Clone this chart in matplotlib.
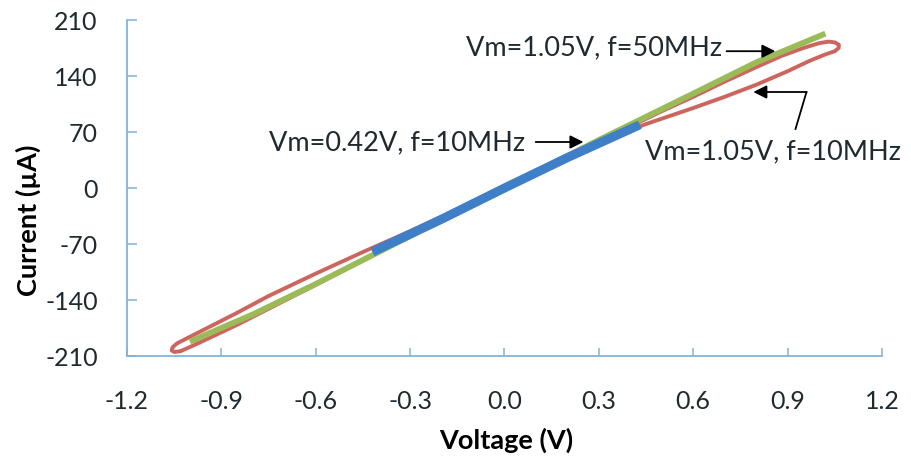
import matplotlib
matplotlib.use("Agg")
import matplotlib.pyplot as plt

plt.rcParams['font.family'] = ['Lato', 'DejaVu Sans']

# Vm=1.05V, f=10MHz (pinched hysteresis loop, traversal order)
red_v = [0.0, 0.1, 0.2, 0.3, 0.4, 0.5, 0.6, 0.7, 0.8, 0.88, 0.95, 1.0, 1.03, 1.05, 1.063, 1.062, 1.05, 1.02,
         0.97, 0.9, 0.8, 0.7, 0.6, 0.45, 0.3, 0.2, 0.1, 0.0,
         -0.1, -0.2, -0.3, -0.45, -0.6, -0.75, -0.85, -0.93, -0.99, -1.03, -1.05, -1.058, -1.055, -1.04,
         -1.0, -0.95, -0.85, -0.75, -0.6, -0.45, -0.3, -0.2, -0.1, 0.0]
red_i = [0, 20, 39, 58, 77, 96, 114, 133, 151, 165, 175, 181, 183, 182, 179, 175, 171, 167,
         159, 146, 129, 114, 100, 80, 57, 37, 18, 0,
         -20, -40, -60, -90, -121, -151, -171, -186, -197, -204, -205, -203, -199, -194,
         -186, -176, -156, -135, -107, -80, -54, -36, -18, 0]

# Vm=1.05V, f=50MHz
green_v = [-1.0, -0.8, -0.6, -0.3, 0.0, 0.3, 0.6, 0.8, 1.02]
green_i = [-192, -158, -120, -60, 0, 60, 118, 157, 193]

# Vm=0.42V, f=10MHz
blue_v = [-0.42, -0.2, 0.0, 0.2, 0.43]
blue_i = [-80, -39, 0, 38, 79]

xticks = [-1.2, -0.9, -0.6, -0.3, 0.0, 0.3, 0.6, 0.9, 1.2]
yticks = [-210, -140, -70, 0, 70, 140, 210]

txt_color = '#1f2a30'
spine_color = '#86b2d6'

fig = plt.figure(figsize=(9.12, 4.6), dpi=100)
ax = fig.add_axes([127/912, 103/460, 755/912, 336/460])

ax.plot(red_v, red_i, color='#cc655e', lw=2.8, solid_joinstyle='round', zorder=2)
ax.plot(green_v, green_i, color='#9bbb59', lw=4.2, solid_capstyle='butt', zorder=3)
ax.plot(blue_v, blue_i, color='#3f7fc8', lw=6.5, solid_capstyle='butt', zorder=4)

ax.set_xlim(-1.2, 1.2)
ax.set_ylim(-210, 210)
ax.set_xticks(xticks)
ax.set_xticklabels([f"{t:.1f}" for t in xticks])
ax.set_yticks(yticks)
ax.set_yticklabels([str(t) for t in yticks])

for s in ['top', 'right']:
    ax.spines[s].set_visible(False)
for s in ['left', 'bottom']:
    ax.spines[s].set_color(spine_color)
    ax.spines[s].set_linewidth(1.3)

ax.tick_params(axis='x', direction='in', length=6, width=1.1, color=spine_color,
               labelsize=18, labelcolor=txt_color, pad=24)
ax.tick_params(axis='y', direction='in', length=7, width=1.1, color=spine_color,
               labelsize=18, labelcolor=txt_color, pad=21)

ax.set_xlabel('Voltage (V)', fontsize=19.5, fontweight='bold', color='black')
ax.set_ylabel('Current (µA)', fontsize=19.5, fontweight='bold', color='black')
ax.xaxis.set_label_coords((506-127)/755, (357-440)/336)
ax.xaxis.label.set_va('center')
ax.yaxis.set_label_coords((28-127)/755, (357-220)/336)
ax.yaxis.label.set_va('center')

arrow = dict(arrowstyle='-|>', color='black', lw=1.3, mutation_scale=20, shrinkA=0, shrinkB=0)

ax.text(0.286, 176, 'Vm=1.05V, f=50MHz', fontsize=19.5, color=txt_color, ha='center', va='center')
ax.annotate('', xy=(0.861, 171), xytext=(0.706, 171), arrowprops=arrow)

ax.text(-0.342, 57.5, 'Vm=0.42V, f=10MHz', fontsize=19.5, color=txt_color, ha='center', va='center')
ax.annotate('', xy=(0.251, 57.5), xytext=(0.099, 57.5), arrowprops=arrow)

ax.text(0.855, 47, 'Vm=1.05V, f=10MHz', fontsize=19.5, color=txt_color, ha='center', va='center')
ax.plot([0.925, 0.96], [73.75, 120], color='black', lw=1.3)
ax.annotate('', xy=(0.791, 120), xytext=(0.96, 120), arrowprops=arrow)

fig.savefig('out.png', dpi=100)
